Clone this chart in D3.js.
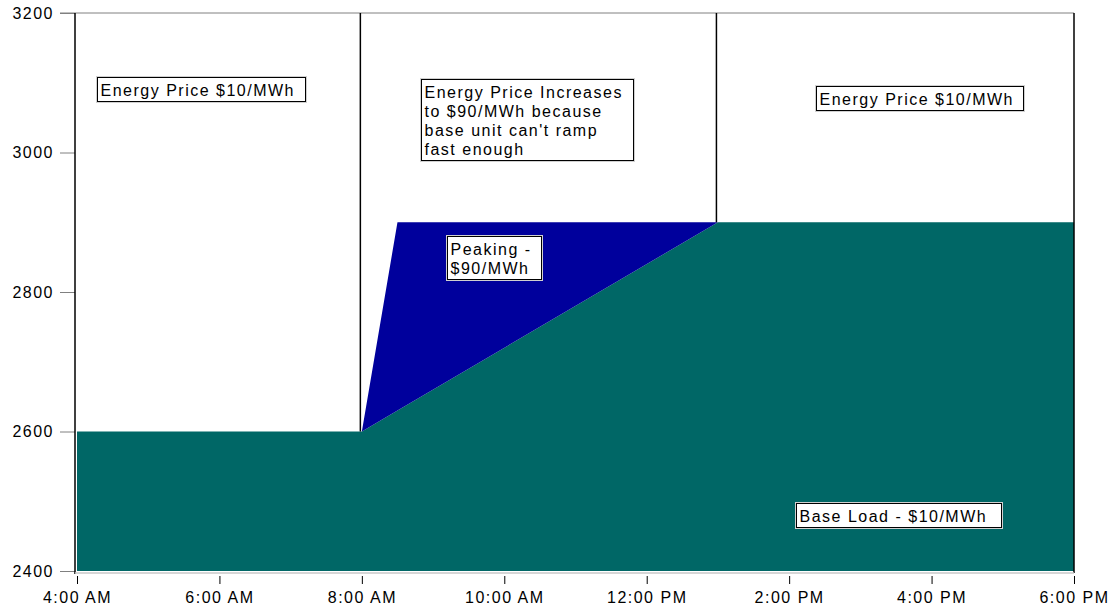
<!DOCTYPE html>
<html>
<head>
<meta charset="utf-8">
<script src="https://cdn.jsdelivr.net/npm/d3@7"></script>
<style>
  body { margin: 0; background: #fff; }
  svg text { font-family: "Liberation Sans", Arial, sans-serif; font-size: 16px; letter-spacing: 1.5px; fill: #000; }
</style>
</head>
<body>
<div class="container"></div>
<script>
const w = 1114;
const h = 613;

// load profile (hours of day)
const times = [4, 8, 8.5, 13, 18];
const baseLoad = [2600, 2600, 2630, 2900, 2900];
const totalLoad = [2600, 2600, 2900, 2900, 2900];

// vertical markers where the price regime changes
const markerTimes = [8, 13];
const markerValues = [2600, 2900];

const yTicks = [2400, 2600, 2800, 3000, 3200];
const xTickHours = [4, 6, 8, 10, 12, 14, 16, 18];

// annotation boxes: anchor time / value of the top-left corner, text lines
const notes = [
  { t: 4.28, v: 3108, wd: 208, lines: ["Energy Price $10/MWh"] },
  { t: 8.84, v: 3105, wd: 212, lines: ["Energy Price Increases", "to $90/MWh because", "base unit can't ramp", "fast enough"] },
  { t: 14.39, v: 3095, wd: 207, lines: ["Energy Price $10/MWh"] },
  { t: 9.2, v: 2880, wd: 94, lines: ["Peaking -", "$90/MWh"] },
  { t: 14.1, v: 2498, wd: 205, lines: ["Base Load - $10/MWh"] }
];

const day = hr => new Date(2000, 0, 1, Math.floor(hr), Math.round((hr % 1) * 60));

const data = times.map((t, i) => ({ date: day(t), base: baseLoad[i], total: totalLoad[i] }));

const xScale = d3.scaleTime()
  .domain([day(4), day(18)])
  .range([77, 1074]);

const yScale = d3.scaleLinear()
  .domain([2400, 3200])
  .range([571, 13]);

const svg = d3.select(".container")
  .append("svg")
  .attr("width", w)
  .attr("height", h);

// base load area
svg.append("path")
  .datum(data)
  .attr("fill", "#006766")
  .attr("d", d3.area()
    .x(d => xScale(d.date))
    .y0(yScale(2400))
    .y1(d => yScale(d.base)));

// peaking area
svg.append("path")
  .datum(data)
  .attr("fill", "#00009c")
  .attr("d", d3.area()
    .x(d => xScale(d.date))
    .y0(d => yScale(d.base))
    .y1(d => yScale(d.total)));

// top frame line (gray) and right frame line
svg.append("line")
  .attr("x1", xScale(day(4)) - 17).attr("x2", xScale(day(18)))
  .attr("y1", yScale(3200)).attr("y2", yScale(3200))
  .attr("stroke", "#808080");
svg.append("line")
  .attr("x1", xScale(day(18))).attr("x2", xScale(day(18)))
  .attr("y1", yScale(3200)).attr("y2", yScale(2400) + 2)
  .attr("stroke", "#000").attr("stroke-width", 1.5);

// vertical markers
svg.selectAll(".marker")
  .data(markerTimes)
  .enter()
  .append("line")
  .attr("class", "marker")
  .attr("x1", d => xScale(day(d)) - 1.5)
  .attr("x2", d => xScale(day(d)) - 1.5)
  .attr("y1", yScale(3200))
  .attr("y2", (d, i) => yScale(markerValues[i]))
  .attr("stroke", "#000")
  .attr("stroke-width", 1.5);

// y axis
const yAxis = d3.axisLeft(yScale)
  .tickValues(yTicks)
  .tickSize(15)
  .tickPadding(6)
  .tickFormat(d3.format("d"));

const gy = svg.append("g")
  .attr("transform", "translate(75,0)")
  .call(yAxis);
gy.select(".domain").remove();
gy.selectAll(".tick line").attr("stroke", "#808080");
gy.append("line")
  .attr("x1", 0).attr("x2", 0)
  .attr("y1", yScale(3200)).attr("y2", yScale(2400) + 3)
  .attr("stroke", "#000").attr("stroke-width", 1.5);

// x axis
const xAxis = d3.axisBottom(xScale)
  .tickValues(xTickHours.map(day))
  .tickSize(10)
  .tickPadding(8)
  .tickFormat(d3.timeFormat("%-I:%M %p"));

const gx = svg.append("g")
  .attr("transform", "translate(0," + 574 + ")")
  .call(xAxis);
gx.select(".domain").remove();
gx.selectAll(".tick line").attr("stroke", "#000").attr("y1", 2);
svg.append("line")
  .attr("x1", 75).attr("x2", xScale(day(18)))
  .attr("y1", 573).attr("y2", 573)
  .attr("stroke", "#c8c8c8").attr("stroke-width", 1.5);

// annotation boxes
const lineH = 19;
const boxes = svg.selectAll(".note")
  .data(notes)
  .enter()
  .append("g")
  .attr("class", "note")
  .attr("transform", d => `translate(${Math.round(xScale(day(d.t))) + 0.5},${Math.round(yScale(d.v)) + 0.5})`);

boxes.append("rect")
  .attr("x", -1).attr("y", -1)
  .attr("width", d => d.wd + 2)
  .attr("height", d => d.lines.length * lineH + 7)
  .attr("fill", "none")
  .attr("stroke", "#d0d0d0");

boxes.append("rect")
  .attr("width", d => d.wd)
  .attr("height", d => d.lines.length * lineH + 5)
  .attr("fill", "#fff")
  .attr("stroke", "#000");

boxes.selectAll("text")
  .data(d => d.lines)
  .enter()
  .append("text")
  .attr("x", 3)
  .attr("y", (d, i) => 18 + i * lineH)
  .text(d => d);
</script>
</body>
</html>
